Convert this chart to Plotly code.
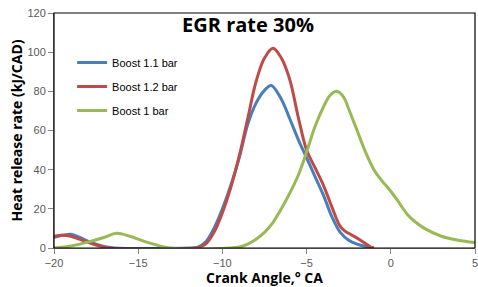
import plotly.graph_objects as go

# Boost 1.1 bar
x_b11 = [-20, -19.5, -19, -18.5, -18, -17.5, -17, -16.4, -12, -11.5, -11, -10.5, -10, -9.5, -9, -8.5, -8, -7.5, -7.1,
         -6.5, -6, -5.5, -5, -4.5, -4, -3.5, -3, -2.5, -2, -1.5, -1]
y_b11 = [5.5, 6.5, 7, 5.5, 3.5, 2, 0.8, 0, 0, 0.3, 3, 10, 20, 32, 46, 63, 74, 80.5, 83,
         76, 66, 55.5, 46, 36.5, 27, 16, 8, 4, 2, 0.8, 0]

# Boost 1.2 bar
x_b12 = [-20, -19.5, -19, -18.5, -18, -17.5, -17, -16.8, -11.6, -11, -10.5, -10, -9.5, -9, -8.5, -8, -7.5, -7,
         -6.5, -6, -5.5, -5, -4.5, -4, -3.5, -3, -2.7, -2.4, -1.8, -1.2, -1]
y_b12 = [6, 6.5, 6, 4.5, 3, 1.5, 0.4, 0, 0, 2, 8, 18, 31, 47, 66, 85, 97, 102,
         97, 86, 67, 50, 41, 32, 21, 11, 8.5, 7, 4, 0.5, 0]

# Boost 1 bar
x_b10 = [-20, -19, -18, -17, -16.3, -15.5, -14.5, -13.1, -9.5, -9, -8.5, -8, -7.5, -7, -6.5, -6, -5.5, -5, -4.5, -4,
         -3.6, -3.2, -2.8, -2.5, -2, -1.5, -1, -0.5, 0, 0.5, 1, 1.5, 2, 3, 4, 5]
y_b10 = [0, 1, 3, 5.5, 7.5, 6, 3, 0, 0, 0.5, 2, 4.5, 8, 13, 20, 28, 37, 49, 62, 72,
         78, 80, 77, 71, 60, 49, 40, 34, 29, 23, 17, 13, 10, 6, 4, 2.8]

x_ticks = [-20, -15, -10, -5, 0, 5]
y_ticks = [0, 20, 40, 60, 80, 100, 120]

fig = go.Figure()
fig.add_trace(go.Scatter(x=x_b11, y=y_b11, name="Boost 1.1 bar", mode="lines", legendgroup="a",
                         line=dict(color="#4a7ebb", width=3, shape="spline", smoothing=1)))
fig.add_trace(go.Scatter(x=x_b12, y=y_b12, name="Boost 1.2 bar", mode="lines", legendgroup="b",
                         line=dict(color="#be4b48", width=3, shape="spline", smoothing=1)))
fig.add_trace(go.Scatter(x=x_b10, y=y_b10, name="Boost 1 bar", mode="lines", legendgroup="c",
                         line=dict(color="#98b954", width=3, shape="spline", smoothing=1)))

W, H = 478, 287
axis_font = dict(family="Liberation Sans", size=11, color="#595959")
fig.update_layout(
    width=W, height=H,
    margin=dict(l=54, r=3, t=13, b=39, autoexpand=False),
    paper_bgcolor="white", plot_bgcolor="white",
    title=dict(text="<b>EGR rate 30%</b>", x=248/W, xanchor="center",
               y=1-25/H, yanchor="middle",
               font=dict(family="Open Sans", size=20, color="black")),
    legend=dict(x=0.043, y=0.851, xanchor="left", yanchor="top",
                font=dict(family="Liberation Sans", size=11, color="black"),
                bgcolor="rgba(0,0,0,0)", traceorder="grouped", tracegroupgap=5, itemwidth=30),
    showlegend=True,
    shapes=[dict(type="rect", xref="paper", yref="paper", x0=0, y0=0, x1=1, y1=1,
                 line=dict(color="black", width=1.2), layer="above")],
)
fig.update_xaxes(range=[-20, 5], tickvals=x_ticks, ticks="outside", ticklen=5,
                 tickcolor="#868686", showgrid=False, zeroline=False,
                 showline=True, linecolor="#868686", linewidth=1, mirror=False,
                 tickfont=axis_font, ticklabeloverflow="allow",
                 title=dict(text="<b>Crank Angle,° CA</b>", standoff=2,
                            font=dict(family="Open Sans", size=14, color="black")))
fig.update_yaxes(range=[0, 120], tickvals=y_ticks, ticks="outside", ticklen=5,
                 tickcolor="#868686", showgrid=False, zeroline=False,
                 showline=True, linecolor="#868686", linewidth=1, mirror=False,
                 tickfont=axis_font, ticklabeloverflow="allow",
                 title=dict(text="<b>Heat release rate (kJ/CAD)</b>", standoff=1,
                            font=dict(family="Open Sans", size=14, color="black")))

fig.write_html("out.html", config={"displayModeBar": False},
               post_script="document.body.style.margin='0';document.body.style.overflow='hidden';")
